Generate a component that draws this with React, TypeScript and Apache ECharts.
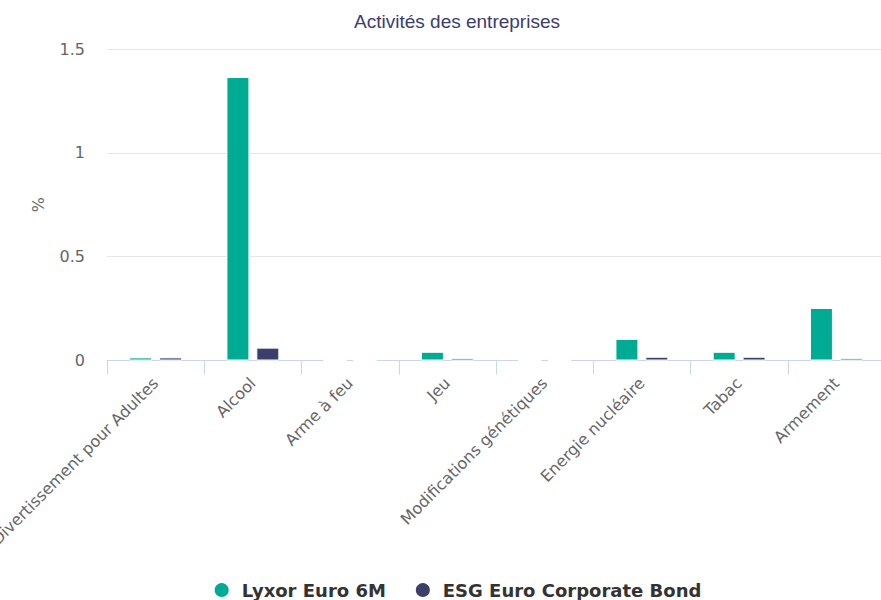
import React, { useEffect, useRef } from "react";
import * as echarts from "echarts";

const categories = [
  "Divertissement pour Adultes",
  "Alcool",
  "Arme à feu",
  "Jeu",
  "Modifications génétiques",
  "Energie nucléaire",
  "Tabac",
  "Armement",
];
const lyxorValues = [0.015, 1.365, 0, 0.042, 0, 0.104, 0.042, 0.253];
const esgValues = [0.015, 0.062, 0, 0.011, 0, 0.018, 0.018, 0.011];
const seriesNames = ["Lyxor Euro 6M", "ESG Euro Corporate Bond"];
const yTicks = [0, 0.5, 1, 1.5];

export default function App() {
  const ref = useRef<HTMLDivElement>(null);
  useEffect(() => {
    document.body.style.margin = "0";
    const chart = echarts.init(ref.current!, undefined, { renderer: "svg" });
    const font = "DejaVu Sans";
    chart.setOption({
      animation: false,
      backgroundColor: "#ffffff",
      title: {
        text: "Activités des entreprises",
        left: "center",
        top: 7,
        textStyle: {
          fontFamily: "Liberation Sans",
          fontSize: 19,
          fontWeight: "normal",
          color: "#3a3d6e",
        },
      },
      legend: {
        top: 581,
        left: "center",
        padding: 0,
        icon: "circle",
        itemWidth: 30,
        itemHeight: 16,
        itemGap: 28,
        textStyle: {
          fontFamily: font,
          fontSize: 18,
          fontWeight: "bold",
          color: "#333333",
        },
        data: seriesNames,
      },
      grid: {
        left: 107,
        right: 29,
        top: 49,
        bottom: 239.5,
        containLabel: false,
        outerBoundsMode: "none",
      },
      xAxis: {
        type: "category",
        data: categories,
        axisLine: { lineStyle: { color: "#ccd6eb", width: 1 } },
        axisTick: { show: true, length: 14, lineStyle: { color: "#ccd6eb" } },
        axisLabel: {
          rotate: 45,
          interval: 0,
          fontFamily: font,
          fontSize: 16,
          color: "#666666",
          margin: 20,
        },
      },
      yAxis: {
        type: "value",
        min: 0,
        max: yTicks[yTicks.length - 1],
        interval: 0.5,
        name: "%",
        nameLocation: "middle",
        nameGap: 61,
        nameRotate: 90,
        nameTextStyle: { fontFamily: font, fontSize: 16, color: "#666666" },
        axisLine: { show: false },
        axisTick: { show: false },
        splitLine: { lineStyle: { color: "#e6e6e6", width: 1 } },
        axisLabel: {
          fontFamily: font,
          fontSize: 16,
          color: "#666666",
          margin: 22,
        },
      },
      series: [
        {
          name: seriesNames[0],
          type: "bar",
          data: lyxorValues,
          barWidth: 23,
          barGap: "30%",
          itemStyle: { color: "#00ab93", borderColor: "#ffffff", borderWidth: 1 },
        },
        {
          name: seriesNames[1],
          type: "bar",
          data: esgValues,
          barWidth: 23,
          barGap: "30%",
          itemStyle: { color: "#3d3f6b", borderColor: "#ffffff", borderWidth: 1 },
        },
      ],
    });
    return () => chart.dispose();
  }, []);
  return (
    <div
      style={{
        position: "absolute",
        left: 0,
        top: 0,
        width: 881,
        height: 600,
        overflow: "hidden",
      }}
    >
      <div ref={ref} style={{ width: 914, height: 600 }} />
    </div>
  );
}
